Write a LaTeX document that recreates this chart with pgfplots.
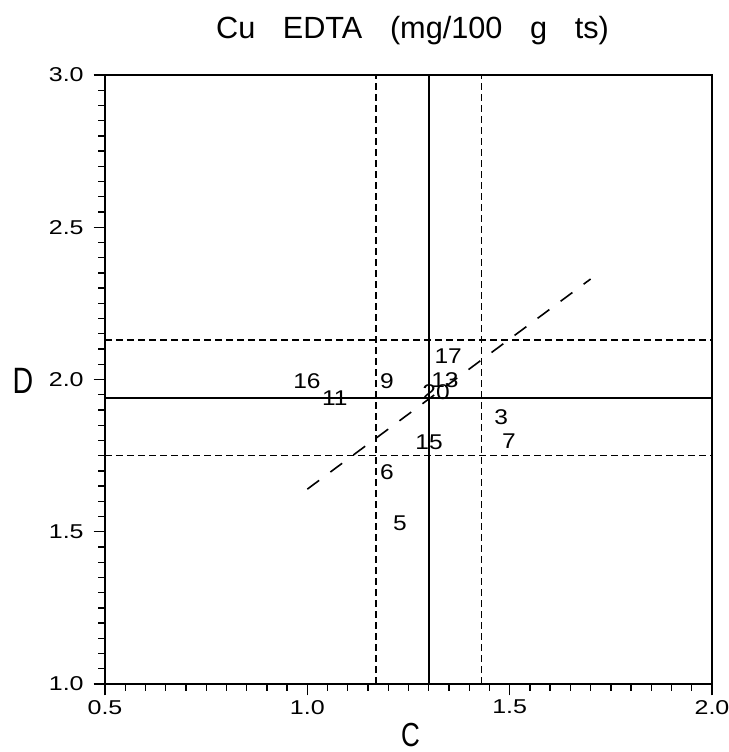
\documentclass[border=0pt]{standalone}
\usepackage{pgfplots}
\pgfplotsset{compat=1.18}
\usepackage{fontspec}
\setmainfont{Liberation Sans}
\newfontfamily\tickfont{Liberation Sans}[FakeStretch=1.25]
\newfontfamily\numfont{Liberation Sans}[FakeStretch=1.15]
\newfontfamily\labfont{Liberation Sans}[FakeStretch=0.78]

% sample labels: C, D, name
\pgfplotstableread{
x     y     lab
1.348 2.077 17
1.340 1.998 13
1.318 1.959 20
0.999 1.995 16
1.068 1.939 11
1.197 1.995 9
1.479 1.877 3
1.301 1.795 15
1.498 1.798 7
1.197 1.696 6
1.229 1.529 5
}\samples

\begin{document}
\begin{tikzpicture}
\begin{axis}[
    name=ax,
    scale only axis,
    width=455.25pt, height=456.75pt,
    xmin=0.5, xmax=2.0, ymin=1.0, ymax=3.0,
    xtick={0.5,1.0,1.5,2.0}, ytick={1.0,1.5,2.0,2.5,3.0},
    minor x tick num=9, minor y tick num=9,
    xtick pos=bottom, ytick pos=left,
    tick align=outside,
    major tick length=8.5pt, minor tick length=5pt,
    every tick/.style={black, line width=1pt},
    axis line style={line width=1.3pt},
    /pgf/number format/assume math mode=true,
    /pgf/number format/.cd, fixed, fixed zerofill, precision=1, /pgfplots/.cd,
    ticklabel style={font=\tickfont\fontsize{15}{17}\selectfont},
    yticklabel style={xshift=-4pt},
    title={Cu\hspace{0.9em}EDTA\hspace{0.9em}(mg/100\hspace{0.9em}g\hspace{0.9em}ts)},
    title style={font=\fontsize{23}{26}\selectfont, at={(axis description cs:0.5,1)}, anchor=base, yshift=21.5pt, xshift=3pt},
    xlabel={C}, ylabel={D},
    every axis x label/.style={at={(axis description cs:0.5,0)}, anchor=base, yshift=-46.5pt, xshift=1.5pt, font=\labfont\fontsize{25}{28}\selectfont},
    every axis y label/.style={at={(axis description cs:0,0.5)}, anchor=center, xshift=-61.5pt, yshift=-1pt, font=\labfont\fontsize{27.5}{30}\selectfont},
    clip=false,
]
% median lines
\addplot[black, line width=1.3pt] coordinates {(1.30,1.0) (1.30,3.0)};
\addplot[black, line width=1.3pt] coordinates {(0.5,1.94) (2.0,1.94)};
% quartile lines
\addplot[black, line width=1.2pt, dash pattern=on 5.25pt off 3pt] coordinates {(1.17,1.0) (1.17,3.0)};
\addplot[black, line width=1.2pt, dash pattern=on 5.25pt off 3pt] coordinates {(1.43,1.0) (1.43,3.0)};
\addplot[black, line width=1.2pt, dash pattern=on 5.25pt off 3pt] coordinates {(0.5,2.13) (2.0,2.13)};
\addplot[black, line width=1.2pt, dash pattern=on 5.25pt off 3pt] coordinates {(0.5,1.75) (2.0,1.75)};
% regression line
\addplot[black, line width=1.2pt, dash pattern=on 11pt off 10.5pt] coordinates {(1.0,1.64) (1.7,2.33)};
% sample numbers
\addplot[only marks, mark=none, nodes near coords, point meta=explicit symbolic,
    nodes near coords style={anchor=center, inner sep=0pt, font=\numfont\fontsize{16}{18}\selectfont}]
    table[x=x, y=y, meta=lab] {\samples};
\end{axis}
\pgfresetboundingbox
\path[use as bounding box] ([xshift=-78.75pt,yshift=-51pt]ax.south west) rectangle ([xshift=12pt,yshift=56.25pt]ax.north east);
\end{tikzpicture}
\end{document}
